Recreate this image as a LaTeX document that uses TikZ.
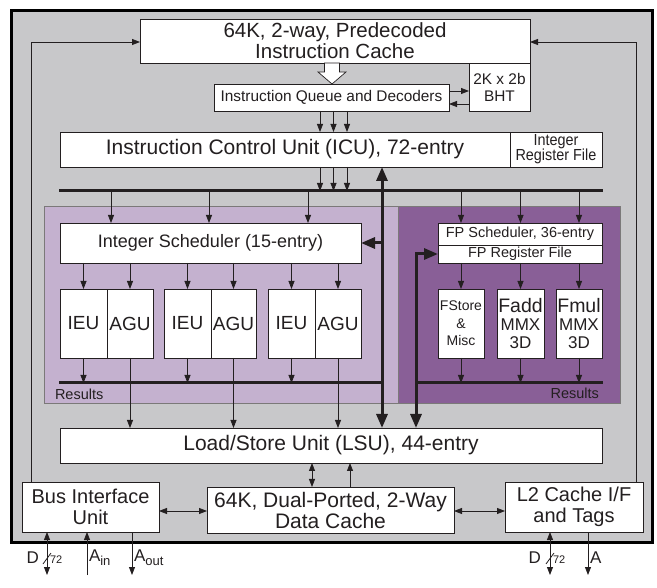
\documentclass[tikz,border=0pt]{standalone}
\usepackage{fontspec}
\setmainfont{Liberation Sans}
\usetikzlibrary{arrows.meta}
\definecolor{bggray}{RGB}{200,200,202}
\definecolor{lpurp}{RGB}{196,177,207}
\definecolor{dpurp}{RGB}{137,95,151}
\definecolor{ink}{RGB}{35,31,32}
\begin{document}
\begin{tikzpicture}[x=1pt,y=-1pt,
  box/.style={draw=ink, line width=0.7pt, fill=white, inner sep=0pt, outer sep=0pt, text=ink, align=center},
  lbl/.style={inner sep=0pt, outer sep=0pt, text=ink},
  arr/.style={draw=ink, line width=0.8pt, -{Triangle[length=8pt,width=6pt]}},
  biarr/.style={draw=ink, line width=0.8pt, {Triangle[length=8pt,width=6pt]}-{Triangle[length=8pt,width=6pt]}},
  plain/.style={draw=ink, line width=0.8pt},
  bus/.style={draw=ink, line width=3pt},
  tarr/.style={draw=ink, line width=3pt, -{Triangle[length=14pt,width=11pt]}},
  tbiarr/.style={draw=ink, line width=3pt, {Triangle[length=14pt,width=11pt]}-{Triangle[length=14pt,width=11pt]}},
  hollow/.style={draw=ink, line width=0.7pt, fill=white},
  fbig/.style={font=\fontsize{20.5}{21}\selectfont},
  fbiu/.style={font=\fontsize{20}{21}\selectfont},
  fis/.style={font=\fontsize{18}{20}\selectfont},
  fu/.style={font=\fontsize{19}{20}\selectfont},
  fmid/.style={font=\fontsize{15.4}{17}\selectfont},
  fsm/.style={font=\fontsize{14.5}{15}\selectfont},
  firf/.style={font=\fontsize{16}{15}\selectfont\addfontfeature{FakeStretch=0.9}},
  ffs/.style={font=\fontsize{14}{17.5}\selectfont},
  fmmx/.style={font=\fontsize{17}{18}\selectfont},
  fres/.style={font=\fontsize{14.5}{15}\selectfont},
  fext/.style={font=\fontsize{17}{18}\selectfont},
  ftiny/.style={font=\fontsize{11}{12}\selectfont}
]
\useasboundingbox (0,0) rectangle (657,588);
% backgrounds
\draw[line width=3pt, draw=black, fill=bggray] (11.5,10.5) rectangle (652.5,542.5);
\draw[fill=lpurp, draw=ink!60, line width=0.5pt] (44,206) rectangle (398,403);
\draw[fill=dpurp, draw=ink!60, line width=0.5pt] (398,206) rectangle (620,403);

% nodes
\node[box, minimum width=390, minimum height=44, fbig] (icache) at (335,41) {64K, 2-way, Predecoded\\Instruction Cache};
\node[box, minimum width=61, minimum height=48, fmid] (bht) at (499.5,87) {2K x 2b\\BHT};
\node[box, minimum width=235, minimum height=27, fmid] (iq) at (331.5,97.5) {Instruction Queue and Decoders};
\node[box, minimum width=450, minimum height=35, font=\fontsize{21}{22}\selectfont] (icu) at (285,149.5) {Instruction Control Unit (ICU), 72-entry};
\node[box, minimum width=92, minimum height=35, firf] (irf) at (556,149.5) {Integer\\Register File};
\node[box, minimum width=301, minimum height=40, fis] (isched) at (210.5,243) {Integer Scheduler (15-entry)};
\node[box, minimum width=47, minimum height=69, fu] (ieu1) at (83.5,323.5) {IEU};
\node[box, minimum width=46, minimum height=69, fu] (agu1) at (130,323.5) {AGU};
\node[box, minimum width=47, minimum height=69, fu] (ieu2) at (187.5,323.5) {IEU};
\node[box, minimum width=45, minimum height=69, fu] (agu2) at (233.5,323.5) {AGU};
\node[box, minimum width=47, minimum height=69, fu] (ieu3) at (291.5,323.5) {IEU};
\node[box, minimum width=46, minimum height=69, fu] (agu3) at (338,323.5) {AGU};
\node[box, minimum width=164, minimum height=22, fsm] (fpsched) at (520,234) {FP Scheduler, 36-entry};
\node[box, minimum width=164, minimum height=18, fsm] (fprf) at (520,254) {FP Register File};
\node[box, minimum width=46, minimum height=69, ffs] (fstore) at (461,323.5) {FStore\\\&\\Misc};
\node[box, minimum width=47, minimum height=69, fmmx] (fadd) at (520.5,323.5) {{\fontsize{19.5}{19}\selectfont Fadd}\\MMX\\3D};
\node[box, minimum width=46, minimum height=69, fmmx] (fmul) at (579,323.5) {{\fontsize{19.5}{19}\selectfont Fmul}\\MMX\\3D};
\node[lbl, fres, anchor=west] (resilbl) at (55,394) {Results};
\node[lbl, fres, anchor=east] (resflbl) at (599,393) {Results};
\node[box, minimum width=542, minimum height=35, font=\fontsize{21}{22}\selectfont] (lsu) at (331,445.5) {Load/Store Unit (LSU), 44-entry};
\node[box, minimum width=137, minimum height=50, fbiu] (biu) at (90.5,507) {Bus Interface\\Unit};
\node[box, minimum width=247, minimum height=46, font=\fontsize{21}{21}\selectfont] (dcache) at (330.5,510) {64K, Dual-Ported, 2-Way\\Data Cache};
\node[box, minimum width=138, minimum height=50, fbiu] (l2) at (574,507) {L2 Cache I/F\\and Tags};

% coordinates
\coordinate (lc) at (31,42);
\coordinate (rc) at (636,42);
\coordinate (busL) at (59,191);
\coordinate (busR) at (603,191);
\coordinate (tl) at (382,191);
\coordinate (resI) at (59,383);
\coordinate (fl) at (416,383);
\coordinate (e1) at (47,575);
\coordinate (e2) at (87,575);
\coordinate (e3) at (132,575);
\coordinate (e4) at (550,575);
\coordinate (e5) at (588,575);

% loops to instruction cache
\draw[arr] (biu.north -| lc) -- (lc) -- (icache.west |- lc);
\draw[arr] (l2.north -| rc) -- (rc) -- (icache.east |- rc);

% hollow arrow
\path (icache.south -| 332,0) coordinate (h0) (iq.north -| 332,0) coordinate (h1);
\draw[hollow] (h0) ++(-7.5,0) -- ++(0,9) -- ++(-6.5,0) -- (h1) -- ++(14,-12) -- ++(-6.5,0) -- ++(0,-9) -- cycle;

% IQ <-> BHT
\draw[arr] (iq.east |- 0,91) -- (bht.west |- 0,91);
\draw[arr] (bht.west |- 0,104) -- (iq.east |- 0,104);

% bus
\draw[bus] (busL) -- (busR);
\foreach \x in {320,333.5,347} {
  \draw[arr] (iq.south -| \x,0) -- (icu.north -| \x,0);
  \draw[arr] (icu.south -| \x,0) -- (busL -| \x,0);
}
\foreach \x in {111,209,308}
  \draw[arr] (busL -| \x,0) -- (isched.north -| \x,0);
\foreach \u in {fstore,fadd,fmul}
  \draw[arr] (busL -| \u) -- (fpsched.north -| \u);

% integer side
\draw[tbiarr] (lsu.north -| tl) -- (icu.south -| tl);
\draw[tarr] (isched.east -| tl) -- (isched.east);
\draw[bus] (resI) -- (resI -| tl);
\foreach \u in {ieu1,agu1,ieu2,agu2,ieu3,agu3}
  \draw[arr] (isched.south -| \u) -- (\u.north);
\foreach \u in {ieu1,ieu2,ieu3}
  \draw[arr] (\u.south) -- (\u.south |- resI);
\foreach \u in {agu1,agu2,agu3}
  \draw[arr] (\u.south) -- (lsu.north -| \u);

% FP side
\draw[tbiarr] (lsu.north -| fl) -- (fl |- fprf.west) -- (fprf.west);
\draw[bus] (fl) -- (fl -| busR);
\foreach \u in {fstore,fadd,fmul} {
  \draw[arr] (fprf.south -| \u) -- (\u.north);
  \draw[arr] (\u.south) -- (\u.south |- fl);
}

% LSU / data cache
\draw[biarr] (dcache.north -| 312,0) -- (lsu.south -| 312,0);
\draw[arr] (dcache.north -| 350,0) -- (lsu.south -| 350,0);
\draw[biarr] (biu.east |- 0,511) -- (dcache.west |- 0,511);
\draw[biarr] (dcache.east |- 0,511) -- (l2.west |- 0,511);

% external pins
\draw[biarr] (biu.south -| e1) -- (e1);
\draw[arr] (e2) -- (biu.south -| e2);
\draw[arr] (biu.south -| e3) -- (e3);
\draw[biarr] (l2.south -| e4) -- (e4);
\draw[arr] (l2.south -| e5) -- (e5);
\draw[plain] (43,564) -- (51,553);
\draw[plain] (546,564) -- (554,553);
\node[lbl, fext, anchor=east] (dl) at (39,558) {D};
\node[lbl, ftiny, anchor=west] (w1) at (50,560) {72};
\node[lbl, fext, anchor=west] (ain) at (89,558) {A\raisebox{-4pt}{\fontsize{13}{13}\selectfont in}};
\node[lbl, fext, anchor=west] (aout) at (134,558) {A\raisebox{-4pt}{\fontsize{13}{13}\selectfont out}};
\node[lbl, fext, anchor=east] (dr) at (541,558) {D};
\node[lbl, ftiny, anchor=west] (w2) at (553,560) {72};
\node[lbl, fext, anchor=west] (ar) at (590,558) {A};
\end{tikzpicture}
\end{document}
